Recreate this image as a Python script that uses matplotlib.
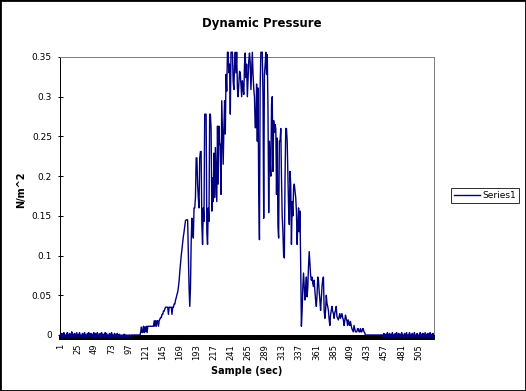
import matplotlib
matplotlib.use("Agg")
import matplotlib.pyplot as plt
import numpy as np
from matplotlib.patches import Rectangle

# dynamic pressure readings, one value per sample (N/m^2)
# samples 1-100: sensor noise around zero
noise_start = [
    0.000, -0.003, 0.002, -0.004, 0.001, 0.003, -0.002, 0.000, -0.004, 0.002,
    0.003, -0.001, -0.004, 0.002, 0.000, -0.003, 0.004, -0.002, 0.001, -0.004,
    0.002, -0.003, 0.000, 0.003, -0.004, 0.001, -0.002, 0.003, -0.003, 0.000,
    -0.004, 0.002, 0.001, -0.003, 0.003, -0.002, 0.000, -0.004, 0.002, -0.001,
    0.003, -0.003, 0.000, 0.002, -0.004, 0.001, -0.002, 0.003, -0.003, 0.002,
    -0.004, 0.000, 0.003, -0.002, 0.001, -0.003, 0.002, -0.004, 0.003, 0.000,
    -0.002, 0.001, -0.004, 0.003, -0.001, 0.002, -0.003, 0.000, -0.004, 0.002,
    0.001, -0.003, 0.003, -0.002, 0.000, -0.004, 0.002, 0.001, -0.003, 0.000,
    0.002, -0.004, 0.000, 0.001, -0.003, 0.000, -0.002, 0.000, -0.004, 0.000,
    0.001, -0.003, 0.000, 0.000, -0.004, 0.000, -0.002, 0.000, 0.000, -0.003,
]
# samples 101-112
flat_start = [0.0] * 12
# samples 113-186
rise = [
    0.000, 0.004, 0.010, 0.003, 0.004, 0.011, 0.003, 0.010, 0.004, 0.011,
    0.003, 0.011, 0.011, 0.011, 0.011, 0.011, 0.011, 0.011, 0.011, 0.011,
    0.018, 0.011, 0.018, 0.011, 0.018, 0.018, 0.011, 0.018, 0.020, 0.022,
    0.022, 0.026, 0.026, 0.030, 0.030, 0.033, 0.035, 0.035, 0.035, 0.035,
    0.026, 0.035, 0.035, 0.035, 0.035, 0.026, 0.035, 0.035, 0.039, 0.039,
    0.044, 0.047, 0.051, 0.054, 0.060, 0.068, 0.080, 0.090, 0.100, 0.108,
    0.115, 0.124, 0.130, 0.137, 0.144, 0.145, 0.145, 0.145, 0.105, 0.060,
    0.036, 0.060, 0.118, 0.147,
]
# samples 187-340
peak = [
    0.130, 0.122, 0.160, 0.160, 0.173, 0.223, 0.223, 0.190, 0.173, 0.160,
    0.223, 0.231, 0.231, 0.139, 0.114, 0.160, 0.143, 0.278, 0.278, 0.278,
    0.130, 0.114, 0.160, 0.143, 0.278, 0.278, 0.260, 0.156, 0.198, 0.168,
    0.229, 0.173, 0.236, 0.200, 0.168, 0.263, 0.190, 0.263, 0.240, 0.240,
    0.177, 0.295, 0.257, 0.215, 0.260, 0.295, 0.253, 0.328, 0.307, 0.356,
    0.356, 0.330, 0.341, 0.278, 0.356, 0.356, 0.356, 0.320, 0.309, 0.340,
    0.356, 0.330, 0.356, 0.311, 0.300, 0.315, 0.332, 0.330, 0.315, 0.300,
    0.320, 0.310, 0.303, 0.340, 0.355, 0.324, 0.341, 0.300, 0.324, 0.345,
    0.355, 0.343, 0.309, 0.332, 0.356, 0.328, 0.310, 0.300, 0.261, 0.261,
    0.316, 0.244, 0.311, 0.181, 0.120, 0.311, 0.356, 0.356, 0.356, 0.299,
    0.147, 0.328, 0.340, 0.356, 0.328, 0.353, 0.286, 0.154, 0.244, 0.220,
    0.200, 0.290, 0.300, 0.206, 0.270, 0.255, 0.265, 0.260, 0.177, 0.248,
    0.137, 0.122, 0.244, 0.244, 0.260, 0.198, 0.150, 0.130, 0.100, 0.097,
    0.198, 0.260, 0.260, 0.244, 0.200, 0.160, 0.139, 0.206, 0.190, 0.114,
    0.168, 0.150, 0.185, 0.190, 0.181, 0.173, 0.156, 0.114, 0.140, 0.160,
    0.130, 0.156, 0.089, 0.011,
]
# samples 341-430
tail = [
    0.030, 0.060, 0.078, 0.060, 0.044, 0.060, 0.073, 0.048, 0.060, 0.086,
    0.105, 0.090, 0.075, 0.069, 0.073, 0.065, 0.061, 0.069, 0.055, 0.044,
    0.036, 0.050, 0.073, 0.069, 0.055, 0.044, 0.031, 0.045, 0.061, 0.070,
    0.073, 0.031, 0.021, 0.030, 0.050, 0.040, 0.036, 0.031, 0.020, 0.012,
    0.025, 0.031, 0.036, 0.030, 0.027, 0.021, 0.028, 0.031, 0.036, 0.023,
    0.021, 0.019, 0.023, 0.027, 0.021, 0.024, 0.027, 0.022, 0.019, 0.012,
    0.018, 0.025, 0.021, 0.018, 0.012, 0.019, 0.015, 0.012, 0.017, 0.012,
    0.008, 0.006, 0.004, 0.012, 0.008, 0.004, 0.004, 0.004, 0.008, 0.008,
    0.004, 0.004, 0.008, 0.004, 0.004, 0.008, 0.008, 0.004, 0.003, 0.000,
]
# samples 431-454
flat_end = [0.0] * 24
# samples 455-526
noise_end = [
    -0.003, 0.002, 0.000, -0.004, 0.001, -0.002, 0.003, -0.004, 0.000, 0.002,
    -0.003, 0.001, -0.004, 0.003, -0.002, 0.000, -0.004, 0.002, -0.001, 0.003,
    -0.004, 0.000, 0.002, -0.003, 0.001, -0.004, 0.003, -0.002, 0.000, -0.004,
    0.002, -0.003, 0.001, 0.003, -0.004, 0.000, -0.002, 0.003, -0.004, 0.001,
    -0.003, 0.002, -0.004, 0.000, 0.003, -0.002, -0.004, 0.001, 0.002, -0.003,
    0.000, -0.004, 0.003, -0.002, 0.001, -0.004, 0.002, -0.003, 0.000, 0.003,
    -0.004, 0.001, -0.002, 0.002, -0.004, 0.000, 0.003, -0.003, 0.001, -0.004,
    0.002, -0.003,
]

pressure = noise_start + flat_start + rise + peak + tail + flat_end + noise_end
samples = np.arange(1, len(pressure) + 1)
n = len(pressure)

x_tick_samples = list(range(1, 506, 24))
y_ticks = [0, 0.05, 0.1, 0.15, 0.2, 0.25, 0.3, 0.35]
y_tick_labels = ["0", "0.05", "0.1", "0.15", "0.2", "0.25", "0.3", "0.35"]

W, H = 526, 391
fig = plt.figure(figsize=(W / 100, H / 100), dpi=100)
ax = fig.add_axes([60 / W, 1 - 335 / H, 374 / W, 278 / H])

line, = ax.plot(samples, pressure, color="#000080", lw=1.0, clip_on=False, zorder=3)

ax.set_xlim(0.5, n + 0.5)
ax.set_ylim(0, 0.35)

ax.set_yticks(y_ticks)
ax.set_yticklabels(y_tick_labels)
ax.tick_params(axis="y", direction="inout", length=3.6, width=0.72, pad=4.0, labelsize=6.5)

ax.set_xticks(x_tick_samples)
ax.set_xticklabels([str(s) for s in x_tick_samples])
ax.set_xticks(np.arange(0.5, n + 1), minor=True)
ax.tick_params(axis="x", which="both", direction="out", length=3.8, width=1.3, color="black")
ax.tick_params(axis="x", which="major", pad=2.5, labelsize=6, labelrotation=90)

for side in ["top", "right"]:
    ax.spines[side].set_color("#808080")
    ax.spines[side].set_linewidth(0.72)
for side in ["left", "bottom"]:
    ax.spines[side].set_color("black")
    ax.spines[side].set_linewidth(0.72)

fig.text(262 / W, 1 - 23 / H, "Dynamic Pressure", ha="center", va="center",
         fontsize=8.5, fontweight="bold")
fig.text(247 / W, 1 - 371 / H, "Sample (sec)", ha="center", va="center",
         fontsize=7, fontweight="bold")
fig.text(21 / W, 1 - 190 / H, "N/m^2", ha="center", va="center", rotation=90,
         fontsize=7, fontweight="bold")

leg = fig.legend([line], ["Series1"], loc="center left",
                 bbox_to_anchor=(451 / W, 1 - 195.5 / H), frameon=True,
                 fancybox=False, edgecolor="black", fontsize=6.5,
                 handlelength=2.9, handletextpad=0.2, borderpad=0.35,
                 borderaxespad=0)
leg.get_frame().set_linewidth(0.72)

fig.add_artist(Rectangle((0, 0), 1, 1, transform=fig.transFigure, fill=False,
                         edgecolor="black", lw=2))

fig.savefig("out.png", dpi=100)
